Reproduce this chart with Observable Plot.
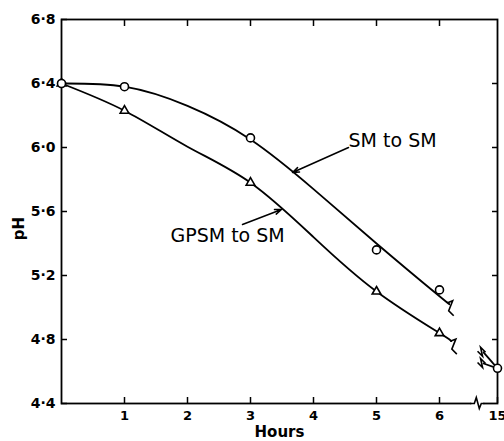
<!DOCTYPE html>
<html><head><meta charset="utf-8">
<script src="https://cdn.jsdelivr.net/npm/d3@7"></script>
<script src="https://cdn.jsdelivr.net/npm/@observablehq/plot@0.6"></script>
<style>body{margin:0;background:#fff} svg{display:block}</style>
</head><body><div id="chart"></div>
<script>
// ---- data ----
const xTicks = [1, 2, 3, 4, 5, 6, 15];
const yTicks = [4.4, 4.8, 5.2, 5.6, 6.0, 6.4, 6.8];
const yTickLabels = ["4·4", "4·8", "5·2", "5·6", "6·0", "6·4", "6·8"];

// measured points
const smHours = [0, 1, 3, 5, 6, 15];
const smPH    = [6.40, 6.38, 6.06, 5.36, 5.11, 4.62];
const gpHours = [0, 1, 3, 5, 6];
const gpPH    = [6.40, 6.23, 5.78, 5.10, 4.84];

// hand-drawn fitted curves
const smCurveHours = [0, 1, 2, 3, 4, 5, 6, 6.13];
const smCurvePH    = [6.40, 6.38, 6.26, 6.05, 5.74, 5.40, 5.07, 5.03];
const gpCurveHours = [0, 1, 2, 3, 4, 5, 6, 6.18];
const gpCurvePH    = [6.40, 6.23, 6.005, 5.78, 5.44, 5.10, 4.84, 4.79];

// short stubs coming back from the 15 h point
const smStubHours = [9.2, 15];
const smStubPH    = [4.72, 4.62];
const gpStubHours = [9.2, 15];
const gpStubPH    = [4.65, 4.62];

// x-axis break
const axisBreakHour = 6.6;

// annotations
const labelText  = ["SM to SM", "GPSM to SM"];
const labelHours = [4.556, 1.73];
const labelPH    = [6.041, 5.45];
const arrowFromHours = [4.556, 2.873];
const arrowFromPH    = [6.00, 5.519];
const arrowToHours   = [3.667, 3.492];
const arrowToPH      = [5.844, 5.6125];

// ---- build tables ----
const rows = (h, p) => h.map((d, i) => ({hours: d, pH: p[i]}));
const smPts = rows(smHours, smPH);
const gpPts = rows(gpHours, gpPH);
const smCurve = rows(smCurveHours, smCurvePH);
const gpCurve = rows(gpCurveHours, gpCurvePH);
const smStub = rows(smStubHours, smStubPH);
const gpStub = rows(gpStubHours, gpStubPH);
const labels = labelText.map((t, i) => ({text: t, hours: labelHours[i], pH: labelPH[i]}));
const arrows = arrowFromHours.map((d, i) => ({x1: d, y1: arrowFromPH[i], x2: arrowToHours[i], y2: arrowToPH[i]}));
const curveEnds = [smCurve[smCurve.length - 1], gpCurve[gpCurve.length - 1]];
const stubEnds = [smStub[0], gpStub[0]];

// break glyphs
const zigV = {draw(c) { c.moveTo(0, 0); c.lineTo(5, -2); c.lineTo(1, 8); c.lineTo(6, 13); }};
const zigStub = {draw(c) { c.moveTo(2, 0); c.lineTo(-3, -5); c.lineTo(-1, 4); c.lineTo(-6, -1); }};
const gapH = {draw(c) { c.moveTo(-6, 0); c.lineTo(6, 0); }};
const zigH = {draw(c) { c.moveTo(-7, 0); c.lineTo(-3, 0); c.lineTo(-1, -6); c.lineTo(2, 5); c.lineTo(4, 0); c.lineTo(7, 0); }};

const W = 504, H = 441;
const mL = 61, mR = 7, mT = 19, mB = 38;

const chart = Plot.plot({
  width: W, height: H,
  marginLeft: mL, marginRight: mR, marginTop: mT, marginBottom: mB,
  style: {fontFamily: "DejaVu Sans", fontSize: "14px", color: "black", background: "white"},
  x: {type: "linear", domain: [0, axisBreakHour, 15], range: [mL, mL + axisBreakHour * 63, W - mR]},
  y: {domain: [4.4, 6.8]},
  marks: [
    Plot.frame({stroke: "black", strokeWidth: 1.8}),
    Plot.axisY(yTicks, {anchor: "left", tickSize: -6, tickPadding: 12, strokeWidth: 1.5,
      tickFormat: d => yTickLabels[yTicks.indexOf(d)], fontSize: 14, fontWeight: "bold", label: null}),
    Plot.axisY(yTicks.slice(1, -1), {anchor: "right", tickSize: -6, strokeWidth: 1.5, tickFormat: () => "", label: null}),
    Plot.axisX(xTicks.slice(0, -1), {anchor: "top", tickSize: -6, strokeWidth: 1.5, tickFormat: () => "", label: null}),
    Plot.axisX(xTicks, {anchor: "bottom", tickSize: -6, tickPadding: 13, strokeWidth: 1.5,
      tickFormat: d => String(d), fontSize: 13, fontWeight: "bold", label: null}),
    Plot.dot([{hours: axisBreakHour, pH: 4.4}], {x: "hours", y: "pH", symbol: gapH, fill: "none", stroke: "white", strokeWidth: 4}),
    Plot.dot([{hours: axisBreakHour, pH: 4.4}], {x: "hours", y: "pH", symbol: zigH, fill: "none", stroke: "black", strokeWidth: 1.6}),
    Plot.line(smCurve, {x: "hours", y: "pH", curve: "natural", stroke: "black", strokeWidth: 1.8}),
    Plot.line(gpCurve, {x: "hours", y: "pH", curve: "natural", stroke: "black", strokeWidth: 1.8}),
    Plot.line(smStub, {x: "hours", y: "pH", stroke: "black", strokeWidth: 1.8}),
    Plot.line(gpStub, {x: "hours", y: "pH", stroke: "black", strokeWidth: 1.8}),
    Plot.dot(curveEnds, {x: "hours", y: "pH", symbol: zigV, fill: "none", stroke: "black", strokeWidth: 1.6}),
    Plot.dot(stubEnds, {x: "hours", y: "pH", symbol: zigStub, fill: "none", stroke: "black", strokeWidth: 1.6}),
    Plot.dot(gpPts, {x: "hours", y: "pH", symbol: "triangle", r: 3.2, fill: "white", stroke: "black", strokeWidth: 1.6}),
    Plot.dot(smPts, {x: "hours", y: "pH", symbol: "circle", r: 4, fill: "white", stroke: "black", strokeWidth: 1.6}),
    Plot.arrow(arrows, {x1: "x1", y1: "y1", x2: "x2", y2: "y2", stroke: "black", strokeWidth: 1.5, headLength: 7, headAngle: 40}),
    Plot.text(labels, {x: "hours", y: "pH", text: "text", textAnchor: "start", fontSize: 19, fill: "black"}),
    Plot.text(["pH"], {frameAnchor: "left", y: [5.42], dx: -42, rotate: -90, fontSize: 15, fontWeight: "bold", fill: "black"}),
    Plot.text(["Hours"], {frameAnchor: "bottom", dy: 33, fontSize: 15, fontWeight: "bold", fill: "black"})
  ]
});
document.getElementById("chart").appendChild(chart);
</script>
</body></html>
